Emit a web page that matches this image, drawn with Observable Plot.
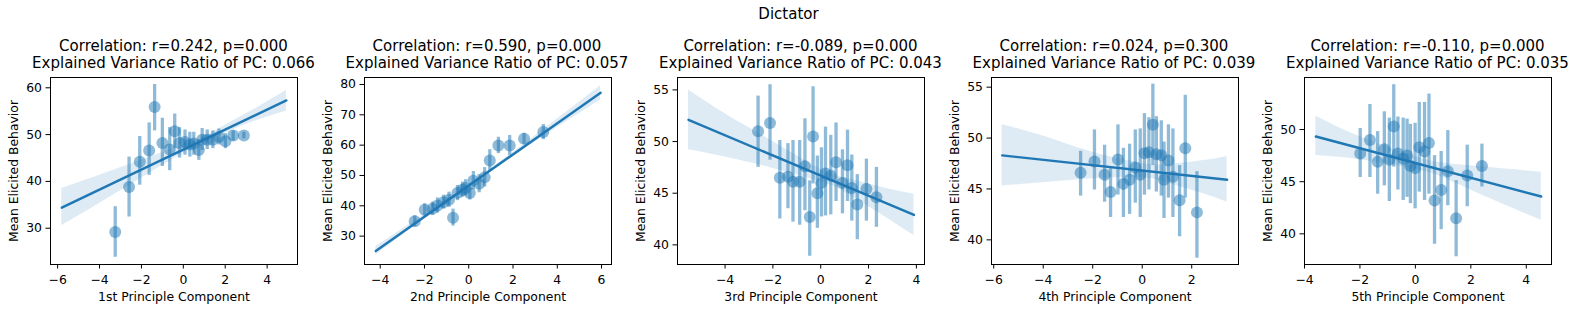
<!DOCTYPE html>
<html>
<head>
<meta charset="utf-8">
<script src="https://cdn.jsdelivr.net/npm/d3@7"></script>
<script src="https://cdn.jsdelivr.net/npm/@observablehq/plot@0.6"></script>
<style>
  html, body { margin: 0; padding: 0; background: #fff; }
  #fig { position: relative; width: 1577px; height: 311px; overflow: hidden; font-family: "DejaVu Sans", sans-serif; color: #000; }
  .sup { position: absolute; left: 0; width: 1577px; top: 5.5px; text-align: center; font-size: 15px; line-height: 17px; }
  .ttl { position: absolute; width: 400px; top: 38px; text-align: center; font-size: 15px; line-height: 17px; white-space: nowrap; }
  .pan { position: absolute; top: 70px; }
</style>
</head>
<body>
<div id="fig"></div>
<script>
const superTitle = "Dictator";
const yLabel = "Mean Elicited Behavior";
const titles1 = ["Correlation: r=0.242, p=0.000", "Correlation: r=0.590, p=0.000", "Correlation: r=-0.089, p=0.000", "Correlation: r=0.024, p=0.300", "Correlation: r=-0.110, p=0.000"];
const titles2 = ["Explained Variance Ratio of PC: 0.066", "Explained Variance Ratio of PC: 0.057", "Explained Variance Ratio of PC: 0.043", "Explained Variance Ratio of PC: 0.039", "Explained Variance Ratio of PC: 0.035"];
const xLabels = ["1st Principle Component", "2nd Principle Component", "3rd Principle Component", "4th Principle Component", "5th Principle Component"];

// Panel 1
const p1X  = [-3.25,-2.59,-2.08,-1.63,-1.37,-1.0,-0.65,-0.41,-0.18,0.08,0.31,0.5,0.74,0.9,1.14,1.41,1.7,2.01,2.38,2.89];
const p1Y  = [29.2,38.8,44.2,46.6,55.9,48.2,46.8,50.7,48.2,48.4,47.9,48.1,46.7,48.9,48.9,48.9,49.5,48.6,49.8,49.8];
const p1Hi = [34.6,45.2,49.6,52.5,60.7,53.5,51.5,54.4,51.5,51.0,50.5,50.5,48.9,51.3,51.0,50.8,51.2,50.2,50.8,50.5];
const p1Lo = [23.8,32.4,39.2,41.3,50.8,43.2,42.3,47.0,45.0,45.6,45.2,45.6,44.5,46.6,46.8,47.0,47.8,47.0,48.6,49.1];
const p1LineX = [-5.8, 4.92], p1LineY = [34.4, 57.3];
const p1BandX = [-5.8,-4,-2,0,1,2,3.5,4.92];
const p1BandLo = [30.6,35.3,40.7,46.0,48.4,50.3,53.0,55.0];
const p1BandHi = [38.5,41.3,44.5,47.7,49.5,52.0,55.7,59.4];
const p1XTicks = [-6,-4,-2,0,2,4], p1YTicks = [30,40,50,60];

// Panel 2
const p2X  = [-2.44,-1.99,-1.64,-1.41,-1.14,-0.89,-0.71,-0.51,-0.28,-0.14,0.05,0.21,0.47,0.72,0.95,1.34,1.85,2.5,3.37];
const p2Y  = [34.9,38.7,39.0,40.1,41.2,42.0,36.1,44.2,45.3,45.9,44.2,48.3,47.3,49.4,54.9,59.9,59.9,62.1,64.3];
const p2Hi = [36.7,40.7,41.2,42.6,43.5,44.5,38.9,46.7,47.8,48.6,46.5,51.3,50.3,52.6,58.5,62.6,63.2,63.9,66.8];
const p2Lo = [33.1,36.7,36.8,37.6,38.9,39.5,33.3,41.7,42.8,43.2,41.9,45.3,44.3,46.2,51.3,57.2,56.6,60.3,61.8];
const p2LineX = [-4.2, 5.96], p2LineY = [25.1, 77.25];
const p2BandX = [-4.2,-2,0,2,4,5.96];
const p2BandLo = [23.7,35.7,46.3,56.2,65.8,74.9];
const p2BandHi = [26.5,37.1,47.0,57.6,68.6,79.6];
const p2XTicks = [-4,-2,0,2,4,6], p2YTicks = [30,40,50,60,70,80];

// Panel 3
const p3X  = [-2.62,-2.12,-1.71,-1.37,-1.16,-0.88,-0.66,-0.46,-0.32,-0.14,0.03,0.2,0.42,0.64,0.91,1.12,1.3,1.53,1.91,2.33];
const p3Y  = [51.0,51.8,46.5,46.6,46.1,46.1,47.6,42.7,50.5,45.0,46.0,46.9,46.7,48.0,46.0,47.7,45.5,43.9,45.4,44.6];
const p3Hi = [54.4,55.5,50.1,49.8,50.1,50.1,52.2,46.2,55.3,48.6,49.4,51.4,50.6,51.8,49.2,51.1,48.7,46.8,48.3,47.5];
const p3Lo = [47.5,48.2,42.5,43.5,42.2,41.9,43.3,38.9,45.9,41.6,42.7,42.8,42.9,44.2,43.0,44.2,42.3,40.5,42.3,41.7];
const p3LineX = [-5.53, 3.9], p3LineY = [52.1, 42.9];
const p3BandX = [-5.53,-4,-2,0,1,2.5,3.9];
const p3BandLo = [49.2,48.5,47.4,46.1,45.1,43.0,40.9];
const p3BandHi = [55.0,52.7,50.0,47.3,46.5,45.6,44.9];
const p3XTicks = [-4,-2,0,2,4], p3YTicks = [40,45,50,55];

// Panel 4
const p4X  = [-2.49,-1.93,-1.52,-1.28,-0.98,-0.76,-0.51,-0.28,-0.08,0.09,0.27,0.43,0.57,0.77,0.88,1.06,1.24,1.51,1.74,2.21];
const p4Y  = [46.6,47.7,46.4,44.7,47.9,45.5,45.9,47.1,46.4,48.5,48.6,51.3,48.4,48.3,45.9,47.8,46.2,43.9,49.0,42.7];
const p4Hi = [48.7,50.8,49.3,47.0,51.3,49.0,49.4,50.8,50.9,52.4,52.0,55.3,52.1,51.7,49.6,51.3,50.9,47.3,54.2,46.7];
const p4Lo = [44.3,44.9,43.7,42.2,44.4,42.2,42.5,43.6,42.2,44.4,44.9,47.3,44.7,44.3,42.1,44.1,42.2,40.3,44.1,38.2];
const p4LineX = [-5.66, 3.43], p4LineY = [48.3, 45.9];
const p4BandX = [-5.66,-4,-2,0,1,2.5,3.43];
const p4BandLo = [45.3,45.6,46.0,46.1,45.6,44.5,43.7];
const p4BandHi = [51.3,50.2,48.6,47.5,47.4,47.8,48.2];
const p4XTicks = [-6,-4,-2,0,2], p4YTicks = [40,45,50,55];

// Panel 5
const p5X  = [-1.99,-1.64,-1.36,-1.12,-0.94,-0.78,-0.63,-0.44,-0.3,-0.18,-0.01,0.14,0.33,0.49,0.69,0.93,1.17,1.47,1.87,2.4];
const p5Y  = [47.7,49.0,46.9,48.1,47.1,50.3,47.7,47.2,47.5,46.5,46.3,48.3,47.9,48.7,43.2,44.2,46.0,41.5,45.6,46.5];
const p5Hi = [50.1,52.4,49.8,51.7,51.1,54.3,51.2,51.1,51.0,50.5,50.6,52.6,52.6,53.4,47.5,47.9,49.9,45.1,48.5,48.6];
const p5Lo = [45.4,45.4,43.8,44.6,43.1,46.4,44.2,43.2,43.5,42.9,42.4,44.0,43.2,43.8,39.0,40.4,42.7,37.8,42.6,44.5];
const p5LineX = [-3.59, 4.54], p5LineY = [49.33, 43.58];
const p5BandX = [-3.59,-2,0,1,2.5,4.54];
const p5BandLo = [47.5,47.1,46.2,45.4,43.6,41.3];
const p5BandHi = [51.3,49.3,47.4,46.8,46.4,45.9];
const p5XTicks = [-4,-2,0,2,4], p5YTicks = [40,45,50];

const panels = [
  {x:p1X,y:p1Y,hi:p1Hi,lo:p1Lo,lx:p1LineX,ly:p1LineY,bx:p1BandX,blo:p1BandLo,bhi:p1BandHi,xt:p1XTicks,yt:p1YTicks,xd:[-6.34,5.45],yd:[22.25,62.2]},
  {x:p2X,y:p2Y,hi:p2Hi,lo:p2Lo,lx:p2LineX,ly:p2LineY,bx:p2BandX,blo:p2BandLo,bhi:p2BandHi,xt:p2XTicks,yt:p2YTicks,xd:[-4.71,6.45],yd:[20.65,82.3]},
  {x:p3X,y:p3Y,hi:p3Hi,lo:p3Lo,lx:p3LineX,ly:p3LineY,bx:p3BandX,blo:p3BandLo,bhi:p3BandHi,xt:p3XTicks,yt:p3YTicks,xd:[-5.99,4.34],yd:[38.1,56.2]},
  {x:p4X,y:p4Y,hi:p4Hi,lo:p4Lo,lx:p4LineX,ly:p4LineY,bx:p4BandX,blo:p4BandLo,bhi:p4BandHi,xt:p4XTicks,yt:p4YTicks,xd:[-6.09,3.89],yd:[37.58,55.95]},
  {x:p5X,y:p5Y,hi:p5Hi,lo:p5Lo,lx:p5LineX,ly:p5LineY,bx:p5BandX,blo:p5BandLo,bhi:p5BandHi,xt:p5XTicks,yt:p5YTicks,xd:[-4.0,4.91],yd:[37.06,54.99]}
];

const C = "#1f77b4";
const fig = document.getElementById("fig");
const sup = document.createElement("div");
sup.className = "sup"; sup.textContent = superTitle; fig.appendChild(sup);

const PW = 313.5, ML = 50, AW = 247;
panels.forEach((p, i) => {
  const left = i * PW;
  const pts = p.x.map((x, j) => ({x, y: p.y[j], lo: p.lo[j], hi: p.hi[j]}));
  const band = p.bx.map((x, j) => ({x, lo: p.blo[j], hi: p.bhi[j]}));
  const line = p.lx.map((x, j) => ({x, y: p.ly[j]}));
  const chart = Plot.plot({
    width: ML + AW + 17,
    height: 241,
    marginLeft: ML, marginRight: 17, marginTop: 7, marginBottom: 47,
    style: {fontFamily: "DejaVu Sans, sans-serif", fontSize: "12.4px", background: "transparent", overflow: "visible", color: "#000"},
    x: {domain: p.xd, ticks: p.xt, tickSize: 4.5, tickPadding: 6.5, label: xLabels[i], labelAnchor: "center", labelArrow: "none", labelOffset: 36},
    y: {domain: p.yd, ticks: p.yt, tickSize: 4.5, tickPadding: 4, label: yLabel, labelAnchor: "center", labelArrow: "none", labelOffset: 41},
    marks: [
      Plot.ruleX(pts, {x: "x", y1: "lo", y2: "hi", stroke: C, strokeOpacity: 0.5, strokeWidth: 3.3}),
      Plot.dot(pts, {x: "x", y: "y", r: 6, fill: C, fillOpacity: 0.5, stroke: "none"}),
      Plot.areaY(band, {x: "x", y1: "lo", y2: "hi", fill: C, fillOpacity: 0.15, curve: "natural"}),
      Plot.line(line, {x: "x", y: "y", stroke: C, strokeWidth: 2.4}),
      Plot.frame({stroke: "#000", strokeWidth: 1})
    ]
  });
  chart.classList.add("pan");
  chart.style.left = left + "px";
  fig.appendChild(chart);
  const t = document.createElement("div");
  t.className = "ttl";
  t.style.left = (left + ML + AW / 2 - 200) + "px";
  const l1 = document.createElement("div"); l1.textContent = titles1[i];
  const l2 = document.createElement("div"); l2.textContent = titles2[i];
  t.appendChild(l1); t.appendChild(l2);
  fig.appendChild(t);
});
</script>
</body>
</html>
